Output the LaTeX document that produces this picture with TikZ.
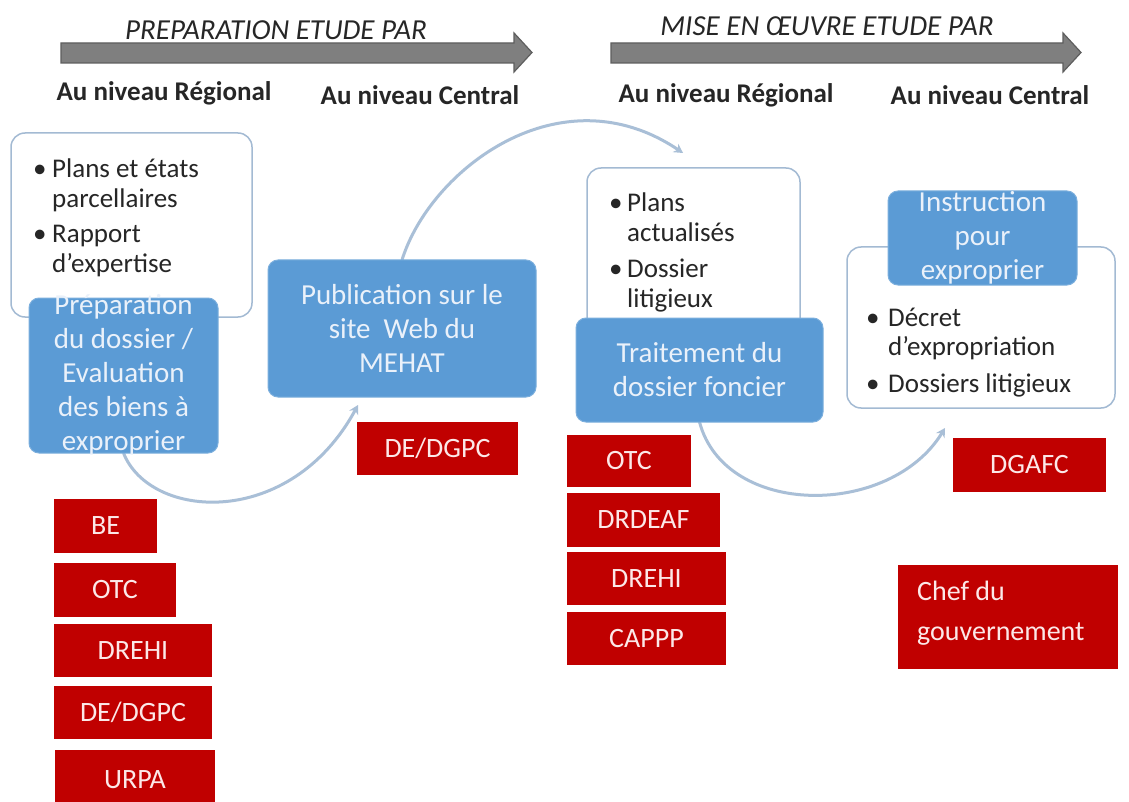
\documentclass[tikz,border=0pt]{standalone}
\usepackage{fontspec}
\setmainfont{Carlito}
\usetikzlibrary{arrows.meta,calc}
\definecolor{bl}{HTML}{5B9BD5}
\definecolor{bltxt}{HTML}{EAF1FA}
\definecolor{rd}{HTML}{C00000}
\definecolor{rdtxt}{HTML}{FCE8E8}
\definecolor{wbd}{HTML}{A3BAD3}
\definecolor{arcc}{HTML}{A9BFD7}
\definecolor{gar}{HTML}{7F7F7F}
\definecolor{gard}{HTML}{5E5E5E}
\definecolor{txt}{HTML}{262626}
\pgfdeclarelayer{bg}
\pgfsetlayers{bg,main}
\begin{document}
\begin{tikzpicture}[x=1pt,y=-1pt,
  box/.style={anchor=north west, inner sep=0pt, outer sep=0pt},
  wbox/.style={box, draw=wbd, line width=1.5pt, fill=white, rounded corners=14pt},
  bbox/.style={box, fill=bl, draw=bl!80!white, line width=1pt, rounded corners=10pt,
    text=bltxt, align=center, font=\fontsize{29}{34}\selectfont},
  btext/.style={text=bltxt, align=center, inner sep=0pt, font=\fontsize{29}{34}\selectfont},
  rbox/.style={box, fill=rd, text=rdtxt, font=\fontsize{28}{34}\selectfont},
  head/.style={text=txt, inner sep=0pt, font=\fontsize{27}{32}\selectfont\bfseries},
  ttl/.style={text=txt, inner sep=0pt, font=\fontsize{29}{34}\selectfont\itshape},
  blist/.style={anchor=north west, inner sep=0pt, text=txt},
  bigarrow/.style={fill=gar, draw=gard, line width=1.2pt, line join=miter},
  arcs/.style={draw=arcc, line width=3pt, -{Stealth[length=9pt,width=10pt]}}
]
\useasboundingbox (0,0) rectangle (1129,802);

% top arrows and titles
\draw[bigarrow] (61,43) -- (514,43) -- (514,33) -- (532,52.5) -- (514,72) -- (514,63) -- (61,63) -- cycle;
\draw[bigarrow] (611,43) -- (1063,43) -- (1063,33) -- (1081,52.5) -- (1063,72) -- (1063,63) -- (611,63) -- cycle;
\node[ttl] (t1) at (276,30) {PREPARATION ETUDE PAR};
\node[ttl] (t2) at (827,26) {MISE EN ŒUVRE ETUDE PAR};
\node[head] (h1) at (164,93) {Au niveau Régional};
\node[head] (h2) at (420,95) {Au niveau Central};
\node[head] (h3) at (726,95) {Au niveau Régional};
\node[head] (h4) at (990,95) {Au niveau Central};

% white boxes
\node[wbox, minimum width=241pt, minimum height=184pt] (w1) at (11,133) {};
\node[wbox, minimum width=213pt, minimum height=170pt] (w2) at (587,168) {};
\node[wbox, minimum width=268pt, minimum height=161pt] (w3) at (847,247) {};

% bullet lists
\node[blist, font=\fontsize{27}{30}\selectfont] (l1) at (33,156.5)
  {\begin{tabular}{@{}l@{}l@{}}\makebox[19pt][l]{•}&Plans et états\\ &parcellaires\\[5pt] •&Rapport\\ &d’expertise\end{tabular}};
\node[blist, font=\fontsize{27}{30}\selectfont] (l2) at (609,190.5)
  {\begin{tabular}{@{}l@{}l@{}}\makebox[18pt][l]{•}&Plans\\ &actualisés\\[6pt] •&Dossier\\ &litigieux\end{tabular}};
\node[blist, font=\fontsize{27}{29}\selectfont] (l3) at (866,306)
  {\begin{tabular}{@{}l@{}l@{}}\makebox[22pt][l]{•}&Décret\\ &d’expropriation\\[8pt] •&Dossiers litigieux\end{tabular}};

% blue boxes
\node[bbox, minimum width=189pt, minimum height=155pt] (prep) at (29,298) {};
\node[btext] (prepT) at (123.5,375) {Préparation\\du dossier /\\Evaluation\\des biens à\\exproprier};
\node[bbox, minimum width=268pt, minimum height=137pt] (pub) at (268,260) {Publication sur le\\site~ Web du\\MEHAT};
\node[bbox, minimum width=247pt, minimum height=104pt] (trait) at (576,318) {Traitement du\\dossier foncier};
\node[bbox, minimum width=189pt, minimum height=94pt] (instr) at (888,191) {};
\node[btext] (instrT) at (982.5,237.5) {Instruction\\pour\\exproprier};

% red boxes
\node[rbox, minimum width=161pt, minimum height=53pt] (r1) at (357,422) {DE/DGPC};
\node[rbox, minimum width=103pt, minimum height=54pt] (r2) at (54,499) {BE};
\node[rbox, minimum width=122pt, minimum height=54pt] (r3) at (54,563) {OTC};
\node[rbox, minimum width=158pt, minimum height=53pt] (r4) at (54,624) {DREHI};
\node[rbox, minimum width=158pt, minimum height=53pt] (r5) at (54,686) {DE/DGPC};
\node[rbox, minimum width=160pt, minimum height=60pt] (r6) at (55,750) {URPA};
\node[rbox, minimum width=124pt, minimum height=52pt] (r7) at (567,435) {OTC};
\node[rbox, minimum width=153pt, minimum height=54pt] (r8) at (567,493) {DRDEAF};
\node[rbox, minimum width=159pt, minimum height=53pt] (r9) at (567,552) {DREHI};
\node[rbox, minimum width=159pt, minimum height=53pt] (r10) at (567,612) {CAPPP};
\node[rbox, minimum width=153pt, minimum height=54pt] (r11) at (953,438) {DGAFC};
\node[rbox, minimum width=220pt, minimum height=104pt] (r12) at (898,565) {};
\node[anchor=west, inner sep=0pt, text=rdtxt, align=left, font=\fontsize{28}{40}\selectfont] (r12T) at (917,613) {Chef du\\gouvernement};

% arcs (behind the boxes)
\coordinate (a1) at (358,405);
\coordinate (a2) at (683,153);
\coordinate (a3) at (945,428);
\begin{pgfonlayer}{bg}
\fill[white] (0,0) rectangle (1129,802);
\draw[arcs] (prep.south) .. controls (150,520) and (290,530) .. (a1);
\draw[arcs] (pub.north) .. controls (430,170) and (560,70) .. (a2);
\draw[arcs] (trait.south) .. controls (725,518) and (890,518) .. (a3);
\end{pgfonlayer}
\end{tikzpicture}
\end{document}
